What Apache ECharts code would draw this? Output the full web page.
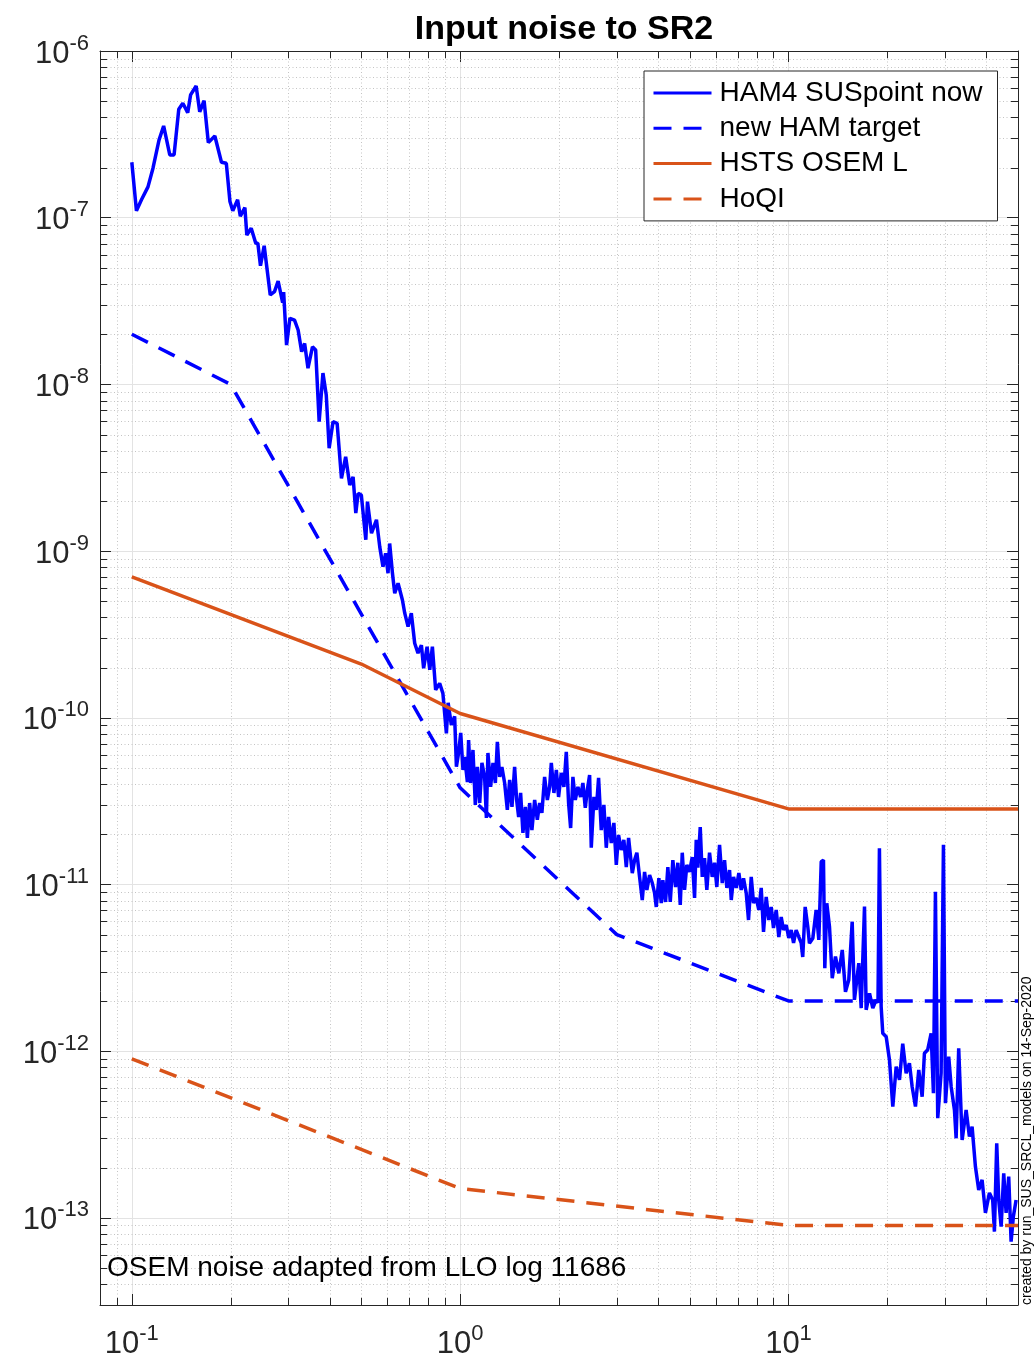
<!DOCTYPE html>
<html>
<head>
<meta charset="utf-8">
<title>Input noise to SR2</title>
<script src="https://cdn.jsdelivr.net/npm/echarts@6.0.0/dist/echarts.min.js"></script>
<style>
  html, body { margin: 0; padding: 0; background: #fff; }
  #chart { width: 1034px; height: 1362px; }
</style>
</head>
<body>
<div id="chart"></div>
<script>
const hamFreq = [
  0.1, 0.1033, 0.107, 0.112, 0.116, 0.121, 0.125, 0.1305, 0.1345, 0.139,
  0.143, 0.148, 0.151, 0.157, 0.161, 0.166, 0.171, 0.179, 0.1875, 0.194,
  0.199, 0.203, 0.210, 0.214, 0.221, 0.224, 0.231, 0.2385, 0.242, 0.2465,
  0.253, 0.264, 0.272, 0.279, 0.288, 0.290, 0.296, 0.303, 0.313, 0.321,
  0.329, 0.336, 0.344, 0.355, 0.363, 0.372, 0.382, 0.391, 0.399, 0.410,
  0.422, 0.435, 0.448, 0.461, 0.472, 0.481, 0.489, 0.500, 0.516, 0.522,
  0.537, 0.556, 0.569, 0.582, 0.593, 0.603, 0.610, 0.622, 0.632, 0.647,
  0.667, 0.678, 0.694, 0.710, 0.727, 0.744, 0.762, 0.774, 0.793, 0.808,
  0.823, 0.842, 0.866, 0.886, 0.908, 0.919, 0.940, 0.962, 0.974,
  // 1 - 3 Hz
  0.989, 1.004, 1.020, 1.032, 1.052, 1.061, 1.076, 1.094, 1.112, 1.128,
  1.147, 1.165, 1.187, 1.202, 1.215, 1.238, 1.259, 1.280, 1.298, 1.319,
  1.340, 1.366, 1.392, 1.415, 1.438, 1.465, 1.486, 1.507, 1.528, 1.553,
  1.580, 1.602, 1.628, 1.654, 1.686, 1.718, 1.746, 1.774, 1.808, 1.843,
  1.873, 1.895, 1.930, 1.963, 1.994, 2.032, 2.070, 2.105, 2.139, 2.170,
  2.205, 2.242, 2.284, 2.327, 2.365, 2.405, 2.439, 2.479, 2.508, 2.555,
  2.598, 2.640, 2.690, 2.740, 2.786, 2.832, 2.886, 2.939, 2.989, 3.037,
  3.095, 3.152, 3.206, 3.258,
  // 3 - 11 Hz
  3.344, 3.398, 3.453, 3.519, 3.586, 3.645, 3.704, 3.775, 3.847, 3.909,
  3.956, 4.029, 4.097, 4.143, 4.222, 4.291, 4.364, 4.444, 4.529, 4.603,
  4.681, 4.747, 4.824, 4.902, 4.996, 5.092, 5.175, 5.236, 5.296, 5.385,
  5.462, 5.550, 5.640, 5.748, 5.857, 5.953, 6.049, 6.166, 6.284, 6.386,
  6.490, 6.614, 6.694, 6.803, 6.933, 7.060, 7.178, 7.295, 7.434, 7.555,
  7.700, 7.825, 7.974, 8.121, 8.259, 8.393, 8.553, 8.710, 8.858, 9.001,
  9.175, 9.344, 9.502, 9.656, 9.84, 10.02, 10.19, 10.36, 10.55, 10.75,
  10.93, 11.05, 11.24, 11.45,
  // 11 - 50 Hz
  11.58, 11.86, 12.14, 12.37, 12.58, 12.78, 12.90, 13.08, 13.33, 13.59,
  13.90, 14.23, 14.58, 14.91, 15.26, 15.63, 15.88, 16.37, 16.65, 17.04,
  17.24, 17.65, 18.06, 18.49, 18.73, 18.92, 19.15, 19.37, 19.84, 20.30,
  20.78, 21.28, 21.78, 22.28, 22.82, 23.35, 23.80, 24.36, 24.93, 25.53,
  25.94, 26.55, 27.19, 27.63, 28.02, 28.48, 29.16, 29.64, 30.06, 30.76,
  31.29, 32.02, 32.40, 32.99, 33.79, 34.75, 35.56, 36.24, 37.09, 37.96,
  38.87, 39.79, 40.92, 41.87, 42.38, 43.07, 43.68, 44.43, 45.24, 46.00,
  46.85, 47.64, 48.41, 49.34
]
const hamAsd = [
  2.15e-7, 1.10e-7, 1.28e-7, 1.53e-7, 1.98e-7, 2.92e-7, 3.55e-7, 2.38e-7, 2.38e-7, 4.47e-7,
  4.86e-7, 4.27e-7, 5.45e-7, 6.17e-7, 4.32e-7, 5.03e-7, 2.82e-7, 3.09e-7, 2.15e-7, 2.12e-7,
  1.25e-7, 1.10e-7, 1.28e-7, 1.02e-7, 1.15e-7, 7.87e-8, 8.64e-8, 7.02e-8, 7.02e-8, 5.15e-8,
  6.79e-8, 3.44e-8, 3.60e-8, 4.17e-8, 3.09e-8, 3.58e-8, 1.72e-8, 2.49e-8, 2.43e-8, 2.12e-8,
  1.57e-8, 1.76e-8, 1.25e-8, 1.68e-8, 1.61e-8, 5.97e-9, 1.17e-8, 8.64e-9, 4.14e-9, 5.97e-9,
  5.84e-9, 2.73e-9, 3.68e-9, 2.49e-9, 2.79e-9, 1.69e-9, 2.22e-9, 2.17e-9, 1.17e-9, 1.98e-9,
  1.28e-9, 1.54e-9, 1.06e-9, 8.06e-10, 9.70e-10, 7.36e-10, 1.11e-9, 7.36e-10, 5.58e-10, 6.41e-10,
  5.09e-10, 4.24e-10, 3.52e-10, 4.24e-10, 2.80e-10, 2.44e-10, 2.73e-10, 1.98e-10, 2.67e-10, 1.94e-10,
  2.67e-10, 1.47e-10, 1.61e-10, 1.40e-10, 8.07e-11, 1.23e-10, 9.05e-11, 1.02e-10, 5.09e-11,
  // 1 - 3 Hz
  6.15e-11, 8.11e-11, 4.86e-11, 5.82e-11, 4.12e-11, 7.36e-11, 4.06e-11, 6.41e-11, 3.00e-11, 5.07e-11,
  3.08e-11, 5.36e-11, 4.42e-11, 2.51e-11, 6.15e-11, 3.85e-11, 5.36e-11, 4.06e-11, 7.16e-11, 4.42e-11,
  5.07e-11, 4.06e-11, 2.80e-11, 4.24e-11, 2.92e-11, 5.07e-11, 3.21e-11, 2.54e-11, 3.54e-11, 2.04e-11,
  2.92e-11, 1.90e-11, 3.08e-11, 2.12e-11, 3.21e-11, 2.44e-11, 3.08e-11, 2.69e-11, 4.42e-11, 3.21e-11,
  3.85e-11, 5.36e-11, 3.54e-11, 4.86e-11, 3.35e-11, 4.67e-11, 3.85e-11, 6.24e-11, 3.08e-11, 2.18e-11,
  4.42e-11, 3.21e-11, 3.85e-11, 3.35e-11, 4.06e-11, 2.88e-11, 3.69e-11, 4.54e-11, 1.66e-11, 3.35e-11,
  2.80e-11, 4.36e-11, 2.12e-11, 3.00e-11, 1.66e-11, 2.54e-11, 1.77e-11, 2.34e-11, 1.31e-11, 1.98e-11,
  1.61e-11, 1.85e-11, 1.27e-11, 1.90e-11,
  // 3 - 11 Hz
  1.17e-11, 1.40e-11, 1.55e-11, 1.11e-11, 8.07e-12, 1.19e-11, 9.27e-12, 1.14e-11, 1.02e-11, 8.89e-12,
  7.33e-12, 1.09e-11, 7.74e-12, 1.06e-11, 7.85e-12, 1.27e-11, 7.85e-12, 1.40e-11, 9.66e-12, 1.35e-11,
  7.54e-12, 1.55e-11, 9.27e-12, 1.31e-11, 1.19e-11, 1.46e-11, 8.30e-12, 1.85e-11, 1.26e-11, 2.21e-11,
  1.11e-11, 1.44e-11, 9.27e-12, 1.55e-11, 1.11e-11, 1.35e-11, 9.66e-12, 1.73e-11, 1.02e-11, 1.40e-11,
  9.53e-12, 1.22e-11, 8.07e-12, 1.11e-11, 9.53e-12, 1.17e-11, 9.27e-12, 1.09e-11, 8.89e-12, 6.12e-12,
  1.11e-11, 7.74e-12, 8.30e-12, 7.03e-12, 9.53e-12, 5.19e-12, 8.41e-12, 6.12e-12, 7.33e-12, 5.48e-12,
  7.03e-12, 4.84e-12, 6.38e-12, 5.33e-12, 5.71e-12, 4.78e-12, 5.33e-12, 4.46e-12, 5.33e-12, 4.84e-12,
  4.46e-12, 3.67e-12, 7.33e-12, 5.56e-12,
  // 11 - 50 Hz
  4.44e-12, 4.76e-12, 7.03e-12, 4.65e-12, 1.37e-11, 1.40e-11, 3.14e-12, 7.71e-12, 5.58e-12, 2.74e-12,
  3.69e-12, 2.93e-12, 4.05e-12, 2.27e-12, 2.67e-12, 5.98e-12, 2.03e-12, 3.37e-12, 1.81e-12, 7.36e-12,
  1.77e-12, 2.22e-12, 1.81e-12, 2.03e-12, 1.95e-12, 1.65e-11, 1.85e-12, 1.28e-12, 1.22e-12, 8.85e-13,
  4.65e-13, 8.07e-13, 6.72e-13, 1.11e-12, 7.37e-13, 8.46e-13, 6.12e-13, 4.65e-13, 7.71e-13, 5.33e-13,
  9.71e-13, 1.02e-12, 1.28e-12, 5.59e-13, 9.05e-12, 3.96e-13, 7.37e-13, 1.73e-11, 4.87e-13, 9.27e-13,
  6.12e-13, 4.44e-13, 3.00e-13, 1.04e-12, 2.93e-13, 4.44e-13, 3.07e-13, 3.52e-13, 2.03e-13, 1.47e-13,
  1.69e-13, 1.07e-13, 1.41e-13, 1.28e-13, 8.26e-14, 2.80e-13, 1.28e-13, 8.85e-14, 1.85e-13, 1.07e-13,
  1.77e-13, 7.20e-14, 1.02e-13, 1.28e-13
]

// new HAM target
const targetFreq = [0.1, 0.2, 1, 3, 10, 50]
const targetAsd = [2e-8, 1e-8, 3.8e-11, 5e-12, 2e-12, 2e-12]

// HSTS OSEM L
const osemFreq = [0.1, 0.5, 1, 10, 50]
const osemAsd = [7e-10, 2.1e-10, 1.06e-10, 2.84e-11, 2.84e-11]

// HoQI
const hoqiFreq = [0.1, 1, 10, 50]
const hoqiAsd = [9e-13, 1.5e-13, 9e-14, 9e-14]

// axis limits
const xMin = 0.08
const xMax = 50
const yMin = 3e-14
const yMax = 1e-6

const FONT = '"Liberation Sans", Arial, Helvetica, sans-serif'
const AXIS_COLOR = '#262626'
const GRID_COLOR = '#e3e3e3'
const MINOR_GRID_COLOR = '#c4c4c4'
const BLUE = '#0000ff'
const ORANGE = '#d95319'
const DASH = [18, 12]
const LINE_W = 3.5

function pairs(xs, ys) {
  const n = Math.min(xs.length, ys.length)
  const out = []
  for (let i = 0; i < n; i++) out.push([xs[i], ys[i]])
  return out
}

// 2..9 x 10^n positions inside the range, for the minor grid
function minorValues(lo, hi) {
  const out = []
  for (let e = Math.floor(Math.log10(lo)) - 1; e <= Math.ceil(Math.log10(hi)); e++) {
    for (let k = 2; k <= 9; k++) {
      const v = k * Math.pow(10, e)
      if (v > lo * 1.0001 && v < hi * 0.9999) out.push(v)
    }
  }
  return out
}

// MATLAB style 10^n labels, nothing for the limits themselves
function powLabel(v) {
  const e = Math.log10(v)
  const r = Math.round(e)
  if (Math.abs(e - r) > 1e-6) return ''
  return '{b|10}{s|' + r + '}'
}

const labelRich = {
  b: { fontSize: 31, fontFamily: FONT, color: AXIS_COLOR, verticalAlign: 'bottom' },
  s: { fontSize: 22, fontFamily: FONT, color: AXIS_COLOR, verticalAlign: 'top', padding: [0, 0, 15, 0] },
}

function crisp(v) {
  return Math.round(v) + 0.5
}

function minorXItem(params, api) {
  const cs = params.coordSys
  const x = crisp(api.coord([api.value(0), yMax])[0])
  const top = cs.y
  const bottom = cs.y + cs.height
  return {
    type: 'group',
    children: [
      { type: 'line', shape: { x1: x, y1: top, x2: x, y2: bottom }, style: { stroke: MINOR_GRID_COLOR, lineWidth: 1, lineDash: [1, 2.5] } },
      { type: 'line', shape: { x1: x, y1: bottom, x2: x, y2: bottom - 7 }, style: { stroke: AXIS_COLOR, lineWidth: 1 } },
      { type: 'line', shape: { x1: x, y1: top, x2: x, y2: top + 7 }, style: { stroke: AXIS_COLOR, lineWidth: 1 } },
    ],
  }
}

function minorYItem(params, api) {
  const cs = params.coordSys
  const y = crisp(api.coord([xMin, api.value(1)])[1])
  const left = cs.x
  const right = cs.x + cs.width
  return {
    type: 'group',
    children: [
      { type: 'line', shape: { x1: left, y1: y, x2: right, y2: y }, style: { stroke: MINOR_GRID_COLOR, lineWidth: 1, lineDash: [1, 2.5] } },
      { type: 'line', shape: { x1: left, y1: y, x2: left + 7, y2: y }, style: { stroke: AXIS_COLOR, lineWidth: 1 } },
      { type: 'line', shape: { x1: right, y1: y, x2: right - 7, y2: y }, style: { stroke: AXIS_COLOR, lineWidth: 1 } },
    ],
  }
}

const axisLine = { show: true, lineStyle: { color: AXIS_COLOR, width: 1 } }
const majorTick = { show: true, inside: true, length: 11, lineStyle: { color: AXIS_COLOR, width: 1 } }

const option = {
  animation: false,
  backgroundColor: '#ffffff',
  title: {
    text: 'Input noise to SR2',
    left: 559,
    top: 8,
    textAlign: 'center',
    textStyle: { fontSize: 34, fontWeight: 'bold', fontFamily: FONT, color: '#000' },
  },
  grid: { left: 100, top: 51, right: 16, bottom: 57, containLabel: false, outerBoundsMode: 'none' },
  legend: {
    orient: 'vertical',
    left: 644,
    top: 71,
    padding: [8, 15, 8, 8],
    itemWidth: 58,
    itemHeight: 14,
    itemGap: 7.3,
    backgroundColor: '#ffffff',
    borderColor: AXIS_COLOR,
    borderWidth: 1,
    borderRadius: 0,
    itemStyle: { opacity: 0 },
    lineStyle: { width: 3 },
    textStyle: { fontSize: 28, fontFamily: FONT, color: '#000', lineHeight: 28, padding: [0, 0, 0, 3] },
    data: ['HAM4 SUSpoint now', 'new HAM target', 'HSTS OSEM L', 'HoQI'],
  },
  xAxis: [
    {
      type: 'log', logBase: 10, min: xMin, max: xMax, position: 'bottom',
      axisLine, axisTick: majorTick,
      splitLine: { show: true, lineStyle: { color: GRID_COLOR, width: 1 } },
      axisLabel: { formatter: powLabel, margin: 18, rich: labelRich },
    },
    {
      type: 'log', logBase: 10, min: xMin, max: xMax, position: 'top',
      axisLine, axisTick: majorTick,
      splitLine: { show: false }, axisLabel: { show: false },
    },
  ],
  yAxis: [
    {
      type: 'log', logBase: 10, min: yMin, max: yMax, position: 'left',
      axisLine, axisTick: majorTick,
      splitLine: { show: true, lineStyle: { color: GRID_COLOR, width: 1 } },
      axisLabel: { formatter: powLabel, margin: 11, rich: labelRich },
    },
    {
      type: 'log', logBase: 10, min: yMin, max: yMax, position: 'right',
      axisLine, axisTick: majorTick,
      splitLine: { show: false }, axisLabel: { show: false },
    },
  ],
  graphic: [
    {
      type: 'text', x: 107, y: 1268, z: 10,
      style: { text: 'OSEM noise adapted from LLO log 11686', fontSize: 28, fontFamily: FONT, fill: '#000', verticalAlign: 'middle', align: 'left' },
    },
    {
      type: 'text', x: 1027, y: 1305, rotation: Math.PI / 2, z: 10,
      style: { text: 'created by run_SUS_SRCL_models on 14-Sep-2020', fontSize: 14, fontFamily: FONT, fill: '#000', verticalAlign: 'middle', align: 'left' },
    },
  ],
  series: [
    {
      type: 'custom', silent: true, z: 1, clip: false,
      renderItem: minorXItem,
      data: minorValues(xMin, xMax).map((v) => [v, yMax]),
    },
    {
      type: 'custom', silent: true, z: 1, clip: false,
      renderItem: minorYItem,
      data: minorValues(yMin, yMax).map((v) => [xMin, v]),
    },
    {
      name: 'HAM4 SUSpoint now', type: 'line', data: pairs(hamFreq, hamAsd),
      symbol: 'none', showSymbol: false, z: 3,
      lineStyle: { color: BLUE, width: LINE_W }, itemStyle: { color: BLUE },
    },
    {
      name: 'new HAM target', type: 'line', data: pairs(targetFreq, targetAsd),
      symbol: 'none', showSymbol: false, z: 3,
      lineStyle: { color: BLUE, width: LINE_W, type: DASH }, itemStyle: { color: BLUE },
    },
    {
      name: 'HSTS OSEM L', type: 'line', data: pairs(osemFreq, osemAsd),
      symbol: 'none', showSymbol: false, z: 3,
      lineStyle: { color: ORANGE, width: LINE_W }, itemStyle: { color: ORANGE },
    },
    {
      name: 'HoQI', type: 'line', data: pairs(hoqiFreq, hoqiAsd),
      symbol: 'none', showSymbol: false, z: 3,
      lineStyle: { color: ORANGE, width: LINE_W, type: DASH }, itemStyle: { color: ORANGE },
    },
  ],
}

const chart = echarts.init(document.getElementById('chart'), null, { renderer: 'canvas' })
chart.setOption(option)
window.addEventListener('resize', () => chart.resize())
</script>
</body>
</html>
